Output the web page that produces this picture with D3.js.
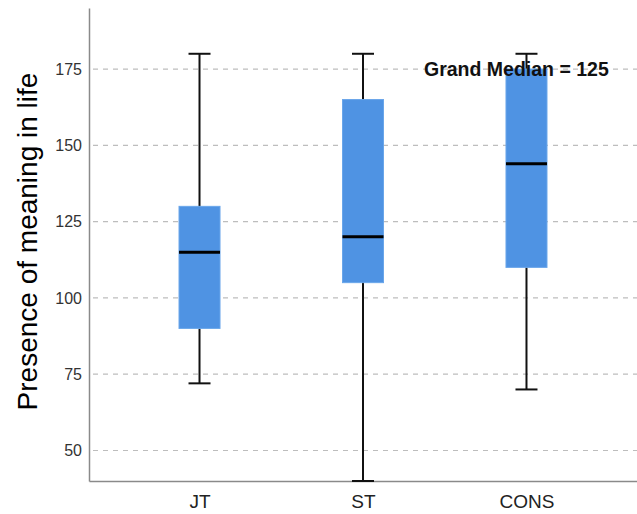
<!DOCTYPE html>
<html>
<head>
<meta charset="utf-8">
<script src="https://cdn.jsdelivr.net/npm/d3@7"></script>
<style>
  body { margin: 0; background: #fff; }
  svg { display: block; font-family: Arial, "Liberation Sans", sans-serif; }
</style>
</head>
<body>
<div id="chart"></div>
<script>
    var groups = ["JT", "ST", "CONS"];
    var whiskerLow = [72, 40, 70];
    var q1 = [90, 105, 110];
    var medians = [115, 120, 144];
    var q3 = [130, 165, 175];
    var whiskerHigh = [180, 180, 180];
    var yTicks = [50, 75, 100, 125, 150, 175];
    var grandMedian = 125;

    var svgWidth = 637;
    var svgHeight = 514;

    var margin = { top: 8, right: 0, bottom: 33, left: 89 };
    var plot_width = svgWidth - margin.left - margin.right;
    var plot_height = svgHeight - margin.top - margin.bottom;

    var svg = d3.select("#chart")
        .append("svg")
        .attr("width", svgWidth)
        .attr("height", svgHeight);

    var chartGroup = svg.append("g")
        .attr("transform", `translate(${margin.left}, ${margin.top})`);

    var boxes = groups.map(function (g, i) {
        return { name: g, lo: whiskerLow[i], q1: q1[i], med: medians[i], q3: q3[i], hi: whiskerHigh[i] };
    });

    var xScale = d3.scalePoint()
        .domain(groups)
        .range([0, plot_width])
        .padding(0.676);

    var yScale = d3.scaleLinear()
        .domain([40, 195])
        .range([plot_height, 0]);

    // dashed grid
    chartGroup.append("g")
        .selectAll("line")
        .data(yTicks)
        .enter()
        .append("line")
        .attr("x1", 4)
        .attr("x2", plot_width)
        .attr("y1", d => yScale(d))
        .attr("y2", d => yScale(d))
        .attr("stroke", "#bdbdbd")
        .attr("stroke-width", 1.2)
        .attr("stroke-dasharray", "5,5");

    var yAxis = d3.axisLeft(yScale).tickValues(yTicks).tickSize(0).tickPadding(7);
    var yG = chartGroup.append("g").call(yAxis);
    yG.select(".domain").attr("stroke", "#8a8a8a").attr("stroke-width", 1.5);
    yG.selectAll("text").attr("font-size", "16px").attr("fill", "#333");

    var xAxis = d3.axisBottom(xScale).tickSize(0).tickPadding(14);
    var xG = chartGroup.append("g")
        .attr("transform", `translate(0, ${plot_height})`)
        .call(xAxis);
    xG.select(".domain").attr("stroke", "#8a8a8a").attr("stroke-width", 1.5);
    xG.selectAll("text").attr("font-size", "19px").attr("fill", "#222");

    var boxWidth = 41;
    var capWidth = 22;

    var boxGroup = chartGroup.selectAll(".box")
        .data(boxes)
        .enter()
        .append("g")
        .attr("transform", d => `translate(${xScale(d.name)}, 0)`);

    boxGroup.append("line")
        .attr("y1", d => yScale(d.lo))
        .attr("y2", d => yScale(d.hi))
        .attr("stroke", "#111")
        .attr("stroke-width", 2);

    boxGroup.append("line")
        .attr("x1", -capWidth / 2)
        .attr("x2", capWidth / 2)
        .attr("y1", d => yScale(d.hi))
        .attr("y2", d => yScale(d.hi))
        .attr("stroke", "#111")
        .attr("stroke-width", 2);

    boxGroup.append("line")
        .attr("x1", -capWidth / 2)
        .attr("x2", capWidth / 2)
        .attr("y1", d => yScale(d.lo))
        .attr("y2", d => yScale(d.lo))
        .attr("stroke", "#111")
        .attr("stroke-width", 2);

    boxGroup.append("rect")
        .attr("x", -boxWidth / 2)
        .attr("width", boxWidth)
        .attr("y", d => yScale(d.q3))
        .attr("height", d => yScale(d.q1) - yScale(d.q3))
        .attr("fill", "#4f93e3")
        .attr("stroke", "#6aa6ea")
        .attr("stroke-width", 1);

    boxGroup.append("line")
        .attr("x1", -boxWidth / 2)
        .attr("x2", boxWidth / 2)
        .attr("y1", d => yScale(d.med))
        .attr("y2", d => yScale(d.med))
        .attr("stroke", "#000")
        .attr("stroke-width", 3);

    chartGroup.append("text")
        .attr("x", 335)
        .attr("y", yScale(175) + 7)
        .attr("font-size", "19.5px")
        .attr("font-weight", "bold")
        .attr("fill", "#111")
        .text("Grand Median = " + grandMedian);

    svg.append("text")
        .attr("transform", `translate(37, ${margin.top + plot_height / 2 - 3}) rotate(-90)`)
        .attr("text-anchor", "middle")
        .attr("font-size", "28px")
        .attr("fill", "#000")
        .text("Presence of meaning in life");
</script>
</body>
</html>
